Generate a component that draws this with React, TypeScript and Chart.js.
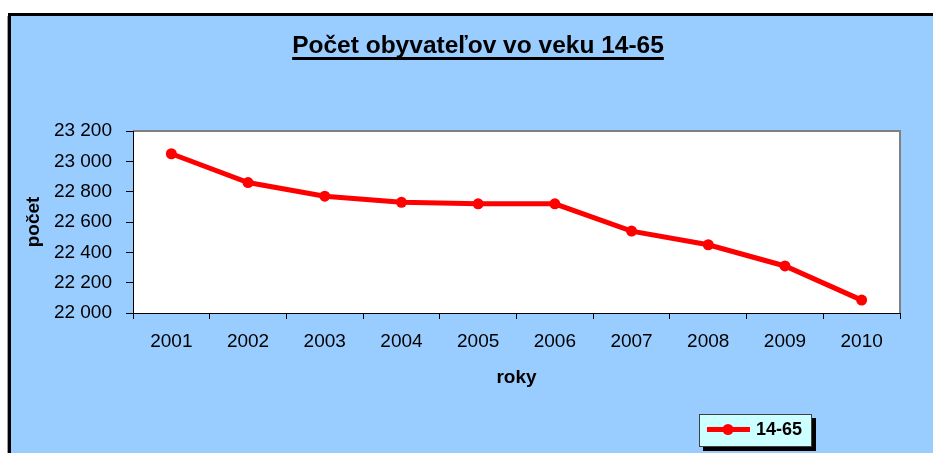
import React, { useEffect, useRef } from 'react';
import { Chart, registerables } from 'chart.js';

Chart.register(...registerables);

// ---- data ----
const years: string[] = ['2001', '2002', '2003', '2004', '2005', '2006', '2007', '2008', '2009', '2010'];
const population: number[] = [23050, 22860, 22770, 22730, 22720, 22720, 22540, 22450, 22310, 22085];
const yMin = 22000;
const yMax = 23200;
const yStep = 200;
const chartTitle = 'Počet obyvateľov vo veku 14-65';
const seriesLabel = '14-65';
const xTitle = 'roky';
const yTitle = 'počet';

const W = 933;
const H = 453;
const FONT = '"Liberation Sans", Arial, Helvetica, sans-serif';
const BLUE = '#99CCFF';
const RED = '#FF0000';

const fmt = (v: number) => String(v).replace(/\B(?=(\d{3})+(?!\d))/g, ' ');

const framePlugin = {
  id: 'frame',
  beforeDraw(chart: any) {
    const { ctx, chartArea: a } = chart;
    ctx.save();
    ctx.fillStyle = '#ffffff';
    ctx.fillRect(0, 0, W, H);
    ctx.fillStyle = BLUE;
    ctx.fillRect(8, 13, W - 8, H - 13);
    ctx.fillStyle = '#000000';
    ctx.fillRect(8, 13, W - 8, 3);
    ctx.fillRect(8, 13, 3, H - 13);
    ctx.fillStyle = '#a0a0a0';
    ctx.fillRect(7, 16, 1, H - 16);
    // plot area
    ctx.fillStyle = '#ffffff';
    ctx.fillRect(a.left, a.top, a.right - a.left, a.bottom - a.top);
    ctx.strokeStyle = '#808080';
    ctx.lineWidth = 2;
    ctx.beginPath();
    ctx.moveTo(a.left, a.top);
    ctx.lineTo(a.right, a.top);
    ctx.lineTo(a.right, a.bottom);
    ctx.stroke();
    // title
    ctx.fillStyle = '#000000';
    ctx.font = `bold 24.5px ${FONT}`;
    ctx.textAlign = 'center';
    ctx.textBaseline = 'alphabetic';
    const tx = 478;
    ctx.fillText(chartTitle, tx, 53);
    const tw = ctx.measureText(chartTitle).width;
    ctx.fillRect(tx - tw / 2, 57, tw, 3);
    ctx.restore();
  },
  afterDraw(chart: any) {
    const { ctx } = chart;
    const ds = chart.data.datasets[0];
    ctx.save();
    const bx = 699, by = 414, bw = 113, bh = 33;
    ctx.fillStyle = '#000000';
    ctx.fillRect(bx + 4, by + 4, bw, bh);
    ctx.fillStyle = '#CCFFFF';
    ctx.fillRect(bx, by, bw, bh);
    ctx.strokeStyle = '#404040';
    ctx.lineWidth = 1;
    ctx.strokeRect(bx + 0.5, by + 0.5, bw - 1, bh - 1);
    const ly = by + 15.5;
    ctx.strokeStyle = ds.borderColor;
    ctx.lineWidth = ds.borderWidth;
    ctx.beginPath();
    ctx.moveTo(bx + 8, ly);
    ctx.lineTo(bx + 51, ly);
    ctx.stroke();
    ctx.fillStyle = ds.pointBackgroundColor;
    ctx.beginPath();
    ctx.arc(bx + 29, ly, ds.pointRadius, 0, Math.PI * 2);
    ctx.fill();
    ctx.fillStyle = '#000000';
    ctx.font = `bold 18px ${FONT}`;
    ctx.textAlign = 'left';
    ctx.textBaseline = 'middle';
    ctx.fillText(ds.label, bx + 57, ly + 1);
    ctx.restore();
  },
};

export default function App() {
  const ref = useRef<HTMLCanvasElement>(null);
  useEffect(() => {
    document.body.style.margin = '0';
    const chart = new Chart(ref.current as HTMLCanvasElement, {
      type: 'line',
      data: {
        labels: years,
        datasets: [
          {
            label: seriesLabel,
            data: population,
            borderColor: RED,
            backgroundColor: RED,
            pointBackgroundColor: RED,
            pointBorderColor: RED,
            borderWidth: 5,
            pointRadius: 5.5,
            pointBorderWidth: 0,
            tension: 0,
            fill: false,
          },
        ],
      },
      options: {
        responsive: false,
        animation: false,
        devicePixelRatio: 1,
        layout: { padding: { left: 0, right: 33, top: 131, bottom: 60 } },
        plugins: {
          legend: { display: false },
          title: { display: false },
          tooltip: { enabled: false },
        },
        scales: {
          x: {
            type: 'category',
            offset: true,
            grid: {
              offset: true,
              drawOnChartArea: false,
              drawTicks: true,
              tickLength: 6,
              color: '#000000',
            },
            border: { display: true, color: '#000000', width: 1 },
            ticks: {
              color: '#000000',
              font: { family: FONT, size: 19 },
              padding: 11,
              maxRotation: 0,
              autoSkip: false,
            },
            title: {
              display: true,
              text: xTitle,
              color: '#000000',
              font: { family: FONT, size: 19, weight: 'bold' },
              padding: { top: 0, bottom: 4 },
            },
            afterFit: (s: any) => {
              s.height = 80;
            },
          },
          y: {
            min: yMin,
            max: yMax,
            grid: {
              drawOnChartArea: false,
              drawTicks: true,
              tickLength: 7,
              color: '#000000',
            },
            border: { display: true, color: '#000000', width: 1 },
            ticks: {
              stepSize: yStep,
              color: '#000000',
              font: { family: FONT, size: 19 },
              padding: 14,
              callback: (v: any) => fmt(Number(v)),
            },
            title: {
              display: true,
              text: yTitle,
              color: '#000000',
              font: { family: FONT, size: 19, weight: 'bold' },
              padding: { top: 22, bottom: 0 },
            },
            afterFit: (s: any) => {
              s.width = 133;
            },
          },
        },
      } as any,
      plugins: [framePlugin],
    });
    return () => chart.destroy();
  }, []);
  return (
    <div style={{ width: W, height: H, position: 'relative' }}>
      <canvas ref={ref} width={W} height={H} style={{ display: 'block', width: W, height: H }} />
    </div>
  );
}
